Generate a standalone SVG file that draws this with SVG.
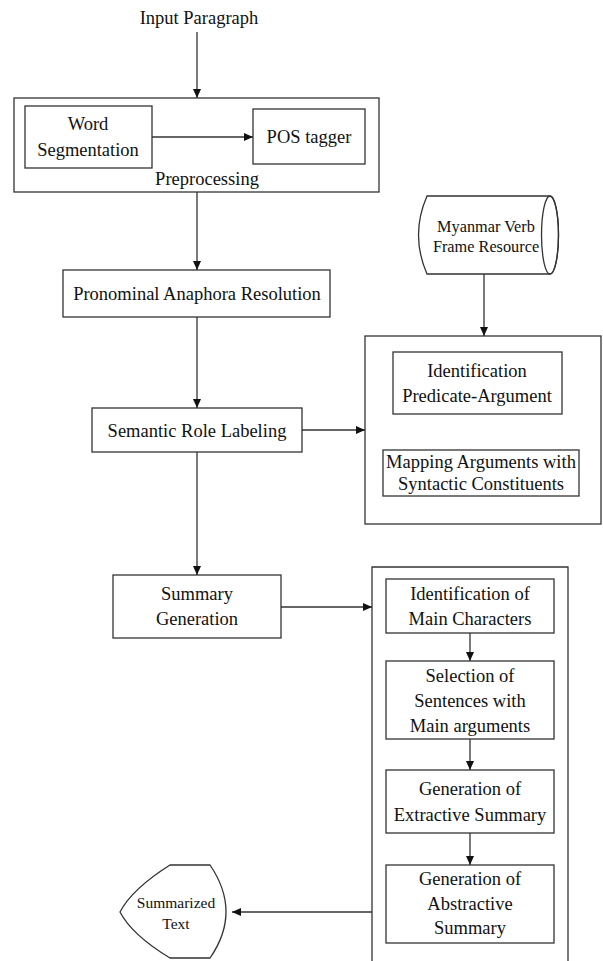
<svg xmlns="http://www.w3.org/2000/svg" width="603" height="961" viewBox="0 0 603 961">
<style>
  .box { fill: #fff; stroke: #333; stroke-width: 1.3; }
  .grp { fill: none; stroke: #333; stroke-width: 1.3; }
  .t { font-family: "Liberation Serif", "Times New Roman", serif; font-size: 18.5px; fill: #111; text-anchor: middle; }
  .s { font-family: "Liberation Serif", "Times New Roman", serif; font-size: 15.5px; fill: #111; text-anchor: middle; }
  .cy { font-family: "Liberation Serif", "Times New Roman", serif; font-size: 16.3px; fill: #111; text-anchor: middle; }
  .c { fill: none; stroke: #333; stroke-width: 1.3; marker-end: url(#ah); }
</style>
<defs>
  <marker id="ah" markerUnits="userSpaceOnUse" markerWidth="10" markerHeight="8" refX="9" refY="4" orient="auto">
    <path d="M0,0 L9,4 L0,8 Z" fill="#111"/>
  </marker>
</defs>
<rect width="603" height="961" fill="#fff"/>

<g id="input">
  <text class="t" x="199" y="24">Input Paragraph</text>
</g>

<g id="preprocessing">
  <rect class="grp" x="14" y="98" width="365" height="94"/>
  <text class="t" x="207" y="185">Preprocessing</text>
</g>
<g id="word-seg">
  <rect class="box" x="25" y="106" width="127" height="62"/>
  <text class="t" x="88" y="130">Word</text>
  <text class="t" x="88" y="156">Segmentation</text>
</g>
<g id="pos-tagger">
  <rect class="box" x="253" y="109" width="112" height="55"/>
  <text class="t" x="309" y="143">POS tagger</text>
</g>

<g id="pronominal">
  <rect class="box" x="63" y="270" width="267" height="47"/>
  <text class="t" x="197" y="300">Pronominal Anaphora Resolution</text>
</g>

<g id="srl">
  <rect class="box" x="92" y="408" width="210" height="44"/>
  <text class="t" x="197" y="437">Semantic Role Labeling</text>
</g>

<g id="verb-frame">
  <path class="box" d="M427,196 L550,196 A8.5,39 0 0 1 550,274 L427,274 Q410,235 427,196 Z"/>
  <ellipse class="grp" cx="550" cy="235" rx="8.5" ry="39"/>
  <text class="cy" x="486" y="232">Myanmar Verb</text>
  <text class="cy" x="486" y="252">Frame Resource</text>
</g>

<g id="srl-group">
  <rect class="grp" x="365" y="336" width="236" height="188"/>
</g>
<g id="id-pred-arg">
  <rect class="box" x="393" y="352" width="169" height="62"/>
  <text class="t" x="477" y="377">Identification</text>
  <text class="t" x="477" y="402">Predicate-Argument</text>
</g>
<g id="mapping">
  <rect class="box" x="383" y="450" width="196" height="46"/>
  <text class="t" x="481" y="468">Mapping Arguments with</text>
  <text class="t" x="481" y="490">Syntactic Constituents</text>
</g>

<g id="summary-gen">
  <rect class="box" x="113" y="575" width="168" height="63"/>
  <text class="t" x="197" y="600">Summary</text>
  <text class="t" x="197" y="625">Generation</text>
</g>

<g id="summary-group">
  <path class="grp" d="M372,961 L372,567 L568,567 L568,961"/>
</g>
<g id="id-main">
  <rect class="box" x="386" y="579" width="168" height="54"/>
  <text class="t" x="470" y="600">Identification of</text>
  <text class="t" x="470" y="625">Main Characters</text>
</g>
<g id="selection">
  <rect class="box" x="386" y="661" width="168" height="78"/>
  <text class="t" x="470" y="682">Selection of</text>
  <text class="t" x="470" y="707">Sentences with</text>
  <text class="t" x="470" y="732">Main arguments</text>
</g>
<g id="extractive">
  <rect class="box" x="386" y="770" width="168" height="63"/>
  <text class="t" x="470" y="795">Generation of</text>
  <text class="t" x="470" y="821">Extractive Summary</text>
</g>
<g id="abstractive">
  <rect class="box" x="386" y="865" width="168" height="78"/>
  <text class="t" x="470" y="885">Generation of</text>
  <text class="t" x="470" y="910">Abstractive</text>
  <text class="t" x="470" y="934">Summary</text>
</g>

<g id="summarized-text">
  <path class="box" d="M170,865 L210,865 Q242,912 210,958 L170,958 Q132,935 120,912 Q132,889 170,865 Z"/>
  <text class="s" x="176" y="908">Summarized</text>
  <text class="s" x="176" y="929">Text</text>
</g>

<g id="connectors">
  <line class="c" x1="197" y1="32" x2="197" y2="98"/>
  <line class="c" x1="152" y1="137" x2="253" y2="137"/>
  <line class="c" x1="197" y1="192" x2="197" y2="270"/>
  <line class="c" x1="197" y1="317" x2="197" y2="408"/>
  <line class="c" x1="302" y1="430" x2="365" y2="430"/>
  <line class="c" x1="484" y1="274" x2="484" y2="336"/>
  <line class="c" x1="197" y1="452" x2="197" y2="575"/>
  <line class="c" x1="281" y1="607" x2="372" y2="607"/>
  <line class="c" x1="470" y1="633" x2="470" y2="661"/>
  <line class="c" x1="470" y1="739" x2="470" y2="770"/>
  <line class="c" x1="470" y1="833" x2="470" y2="865"/>
  <line class="c" x1="372" y1="912" x2="232" y2="912"/>
</g>
</svg>
